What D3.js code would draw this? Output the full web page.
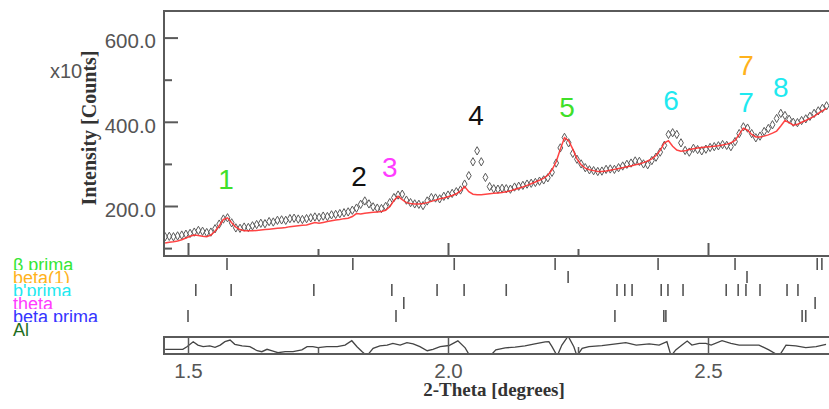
<!DOCTYPE html>
<html><head><meta charset="utf-8">
<script src="https://cdn.jsdelivr.net/npm/d3@7"></script>
<style>
body{margin:0;background:#fff}
svg{display:block}
text{font-family:"Liberation Sans",Arial,sans-serif}
</style>
</head><body>
<svg id="chart" width="829" height="409"></svg>
<script>
// Scan grid (2-Theta, degrees)
const thetaStart = 1.456;
const thetaStep = 0.008;

// Measured intensity (counts / 1000)
const observed = [127,128,127,129,131,133,135,138,142,140, 137,138,146,157,169,172,160,148,147,150,
  149,153,156,159,158,163,162,166,167,166, 170,171,169,168,170,172,174,173,176,175,
  179,180,182,184,186,190,195,204,212,205, 198,195,194,199,208,220,226,228,214,208,
  205,204,201,212,220,219,217,223,226,230, 234,238,252,272,305,331,305,268,246,241,
  240,242,241,240,245,247,249,252,254,256, 259,262,267,280,302,338,363,350,325,311,
  300,291,286,284,282,283,287,288,287,291, 295,299,302,307,306,300,298,308,316,328,
  344,370,374,370,350,332,328,337,334,331, 335,339,341,343,346,344,341,353,372,388,
  385,372,362,366,377,384,393,408,420,415, 406,399,398,403,407,413,420,426,432,438];

// Refined (calculated) profile on the same grid
const calculated = [112,114,115,117,120,124,128,131,130,128, 127,131,140,153,168,172,160,150,144,141,
  141,141,142,143,144,145,146,147,148,149, 151,152,153,154,155,158,161,159,161,163,
  165,167,168,170,171,175,182,181,183,184, 185,186,187,190,198,213,223,215,208,206,
  205,205,206,208,211,214,217,219,222,225, 229,236,246,234,228,227,227,228,229,230,
  231,232,234,236,239,242,245,249,253,257, 261,266,273,286,305,335,362,355,335,312,
  298,290,286,284,282,282,283,285,287,289, 291,293,295,298,300,303,307,312,320,332,
  350,355,342,333,330,331,334,336,338,339, 340,341,342,343,345,347,350,356,370,385,
  380,370,364,364,366,369,373,378,390,403, 398,392,394,399,403,408,413,420,426,432];

// Difference curve
const residTheta = [1.456,1.490,1.498,1.510,1.519,1.529,1.542,1.552,1.562,1.571,1.581,1.590,1.604,1.619,1.633,1.642,1.652,1.662,1.673,1.687,
  1.702,1.719,1.729,1.740,1.750,1.767,1.787,1.802,1.815,1.825,1.835,1.844,1.856,1.869,1.883,1.894,1.908,1.921,1.933,1.946,
  1.960,1.971,1.985,2.002,2.019,2.033,2.042,2.062,2.081,2.092,2.110,2.129,2.148,2.167,2.187,2.194,2.200,2.210,2.219,2.231,
  2.242,2.248,2.258,2.271,2.296,2.323,2.342,2.362,2.387,2.406,2.421,2.429,2.438,2.450,2.460,2.469,2.483,2.496,2.506,2.527,
  2.544,2.560,2.579,2.598,2.617,2.637,2.650,2.669,2.688,2.708,2.727];
const residual = [-19,-19,-6,19,2,-6,-2,-9,2,19, 27,6,-2,-6,-26,-31,-19,-27,-36,-31,
  -31,-22,-6,-6,-11,-6,-6,2,24,-6, -31,-52,-14,-2,2,11,2,14,8,-6,
  -26,-19,-6,0,23,-12,-52,-100,-52,-22, -12,-8,-2,8,18,19,-6,-52,2,47,
  -6,-52,-14,-6,-1,8,14,2,8,2, 19,-52,-22,2,22,2,11,11,2,24,
  11,2,2,2,-22,-52,2,-2,-11,-6,6];

// Axis ticks
const xTickLabels = [1.5, 2.0, 2.5];
const xMinorTicks = [1.75, 2.25];
const yTickLabels = [200, 400, 600];
const yMinorTicks = [100, 300, 500];

// Phases and their reflection positions
const phaseNames = ["β prima", "beta(1)", "b'prima", "theta", "beta prima", "Al"];
const phaseColors = ["#35e635", "#ffb21c", "#1fe9f0", "#ff3cff", "#3535ff", "#1e6e1e"];
const phaseReflections = [
  [1.575, 1.817, 2.012, 2.206, 2.404, 2.552, 2.710, 2.719],
  [2.231, 2.575],
  [1.515, 1.583, 1.742, 1.892, 1.979, 2.031, 2.112, 2.325, 2.340, 2.354, 2.410, 2.423, 2.452, 2.535, 2.558, 2.573, 2.600, 2.652, 2.673],
  [1.915, 2.706],
  [1.500, 1.900, 2.321, 2.415, 2.419, 2.681, 2.688],
  []
];

// Peak annotations
const peakLabels = ["1", "2", "3", "4", "5", "6", "7", "7", "8"];
const peakTheta = [1.573, 1.829, 1.888, 2.054, 2.229, 2.429, 2.573, 2.573, 2.640];
const peakLevel = [240, 247, 269, 392, 411, 428, 511, 423, 459];
const peakColors = ["#3fe02a", "#111111", "#ff3cff", "#111111", "#3fe02a", "#1fe9f0", "#ffb21c", "#1fe9f0", "#1fe9f0"];

const svg = d3.select("#chart");
const frameLeft = 164, frameTop = 11, frameBottom = 256, frameRight = 845;
const diffTop = 337, diffBottom = 354;

const x = d3.scaleLinear().domain([1.5, 2.5]).range([188, 708]);
const y = d3.scaleLinear().domain([200, 600]).range([206, 37.6]);
const yr = d3.scaleLinear().domain([-40, 40]).range([353.5, 337.5]);
const rowY = d3.scaleBand().domain(phaseNames).range([258, 258 + 13 * phaseNames.length]);

const defs = svg.append("defs");
defs.append("clipPath").attr("id", "plotClip").append("rect")
  .attr("x", frameLeft + 1).attr("y", frameTop + 1).attr("width", frameRight - frameLeft).attr("height", frameBottom - frameTop - 2);
defs.append("clipPath").attr("id", "diffClip").append("rect")
  .attr("x", frameLeft + 1).attr("y", diffTop + 1).attr("width", frameRight - frameLeft).attr("height", diffBottom - diffTop - 2);

const obsPts = observed.map((v, i) => [thetaStart + i * thetaStep, v]);
const calcPts = calculated.map((v, i) => [thetaStart + i * thetaStep, v]);

// Observed points as open diamonds
const plot = svg.append("g").attr("clip-path", "url(#plotClip)");
const diamond = d3.symbol().type(d3.symbolDiamond).size(20);
plot.selectAll("path.obs").data(obsPts).join("path")
  .attr("class", "obs")
  .attr("d", diamond)
  .attr("transform", d => `translate(${x(d[0])},${y(d[1])})`)
  .attr("fill", "none").attr("stroke", "#5a5a5a").attr("stroke-width", 1);

// Calculated profile
plot.append("path").datum(calcPts)
  .attr("d", d3.line().x(d => x(d[0])).y(d => y(d[1])))
  .attr("fill", "none").attr("stroke", "#ff3030").attr("stroke-width", 1.5).attr("stroke-opacity", 0.9);

// Main frame
svg.append("rect").attr("x", frameLeft).attr("y", frameTop).attr("width", frameRight - frameLeft).attr("height", frameBottom - frameTop)
  .attr("fill", "none").attr("stroke", "#5a5a5a").attr("stroke-width", 2);

// Y axis (ticks point inward)
const yAxis = svg.append("g").attr("transform", `translate(${frameLeft},0)`)
  .call(d3.axisLeft(y).tickValues(yTickLabels).tickSize(-14).tickPadding(8).tickFormat(d3.format(".1f")));
yAxis.select(".domain").remove();
yAxis.selectAll("line").attr("stroke", "#5a5a5a").attr("stroke-width", 2);
yAxis.selectAll("text").attr("font-size", 20.5).attr("fill", "#555").attr("dy", "0.5em")
  .style("font-family", "'Liberation Sans', Arial, sans-serif");
const yMinor = svg.append("g").attr("transform", `translate(${frameLeft},0)`)
  .call(d3.axisLeft(y).tickValues(yMinorTicks).tickSize(-8).tickFormat(""));
yMinor.select(".domain").remove();
yMinor.selectAll("line").attr("stroke", "#5a5a5a").attr("stroke-width", 2);

// X ticks along the bottom of the main frame
const xMain = svg.append("g").attr("transform", `translate(0,${frameBottom})`)
  .call(d3.axisBottom(x).tickValues(xTickLabels).tickSize(-13).tickFormat(""));
xMain.select(".domain").remove();
xMain.selectAll("line").attr("stroke", "#5a5a5a").attr("stroke-width", 2);
const xMainMinor = svg.append("g").attr("transform", `translate(0,${frameBottom})`)
  .call(d3.axisBottom(x).tickValues(xMinorTicks).tickSize(-7).tickFormat(""));
xMainMinor.select(".domain").remove();
xMainMinor.selectAll("line").attr("stroke", "#5a5a5a").attr("stroke-width", 2);

// Axis titles
svg.append("text").attr("x", 50).attr("y", 78).attr("font-size", 20).attr("fill", "#555").text("x10");
svg.append("text")
  .attr("transform", "translate(96,128) rotate(-90)")
  .attr("text-anchor", "middle").attr("font-size", 20).attr("font-weight", "bold").attr("fill", "#333")
  .style("font-family", "'Liberation Serif','Times New Roman',serif")
  .text("Intensity [Counts]");

// Peak numbers
svg.append("g").selectAll("text").data(peakLabels).join("text")
  .attr("x", (d, i) => x(peakTheta[i])).attr("y", (d, i) => y(peakLevel[i]))
  .attr("text-anchor", "middle").attr("font-size", 28).attr("fill", (d, i) => peakColors[i])
  .text(d => d);

// Reflection markers, one row per phase
const rows = svg.append("g");
phaseNames.forEach((name, k) => {
  rows.append("g").selectAll("line").data(phaseReflections[k]).join("line")
    .attr("x1", d => x(d)).attr("x2", d => x(d))
    .attr("y1", rowY(name)).attr("y2", rowY(name) + 12)
    .attr("stroke", "#555").attr("stroke-width", 1.6);
});

// Phase names, each painted over the previous one
const legend = svg.append("g");
phaseNames.forEach((name, k) => {
  const base = rowY(name) + 12.5;
  legend.append("rect").attr("x", 0).attr("y", base - 13.5).attr("width", 120).attr("height", 18).attr("fill", "#fff");
  legend.append("text").attr("x", 13).attr("y", base).attr("font-size", 18)
    .attr("fill", phaseColors[k]).text(name);
});

// Difference panel
const diffPts = residTheta.map((t, i) => [t, residual[i]]);
svg.append("g").attr("clip-path", "url(#diffClip)").append("path").datum(diffPts)
  .attr("d", d3.line().x(d => x(d[0])).y(d => yr(d[1])))
  .attr("fill", "none").attr("stroke", "#444").attr("stroke-width", 1.3);
svg.append("rect").attr("x", frameLeft).attr("y", diffTop).attr("width", frameRight - frameLeft).attr("height", diffBottom - diffTop)
  .attr("fill", "none").attr("stroke", "#5a5a5a").attr("stroke-width", 2);
const xDiff = svg.append("g").attr("transform", `translate(0,${diffBottom})`)
  .call(d3.axisBottom(x).tickValues(xTickLabels).tickSize(-(diffBottom - diffTop)).tickPadding(9).tickFormat(d3.format(".1f")));
xDiff.select(".domain").remove();
xDiff.selectAll("line").attr("stroke", "#5a5a5a").attr("stroke-width", 1.5);
xDiff.selectAll("text").attr("font-size", 20.5).attr("fill", "#555")
  .style("font-family", "'Liberation Sans', Arial, sans-serif");
const xDiffMinor = svg.append("g").attr("transform", `translate(0,${diffBottom})`)
  .call(d3.axisBottom(x).tickValues(xMinorTicks).tickSize(-7).tickFormat(""));
xDiffMinor.select(".domain").remove();
xDiffMinor.selectAll("line").attr("stroke", "#5a5a5a").attr("stroke-width", 1.5);

svg.append("text").attr("x", 494).attr("y", 396).attr("text-anchor", "middle")
  .attr("font-size", 19).attr("font-weight", "bold").attr("fill", "#333")
  .style("font-family", "'Liberation Serif','Times New Roman',serif")
  .text("2-Theta [degrees]");
</script>
</body></html>
